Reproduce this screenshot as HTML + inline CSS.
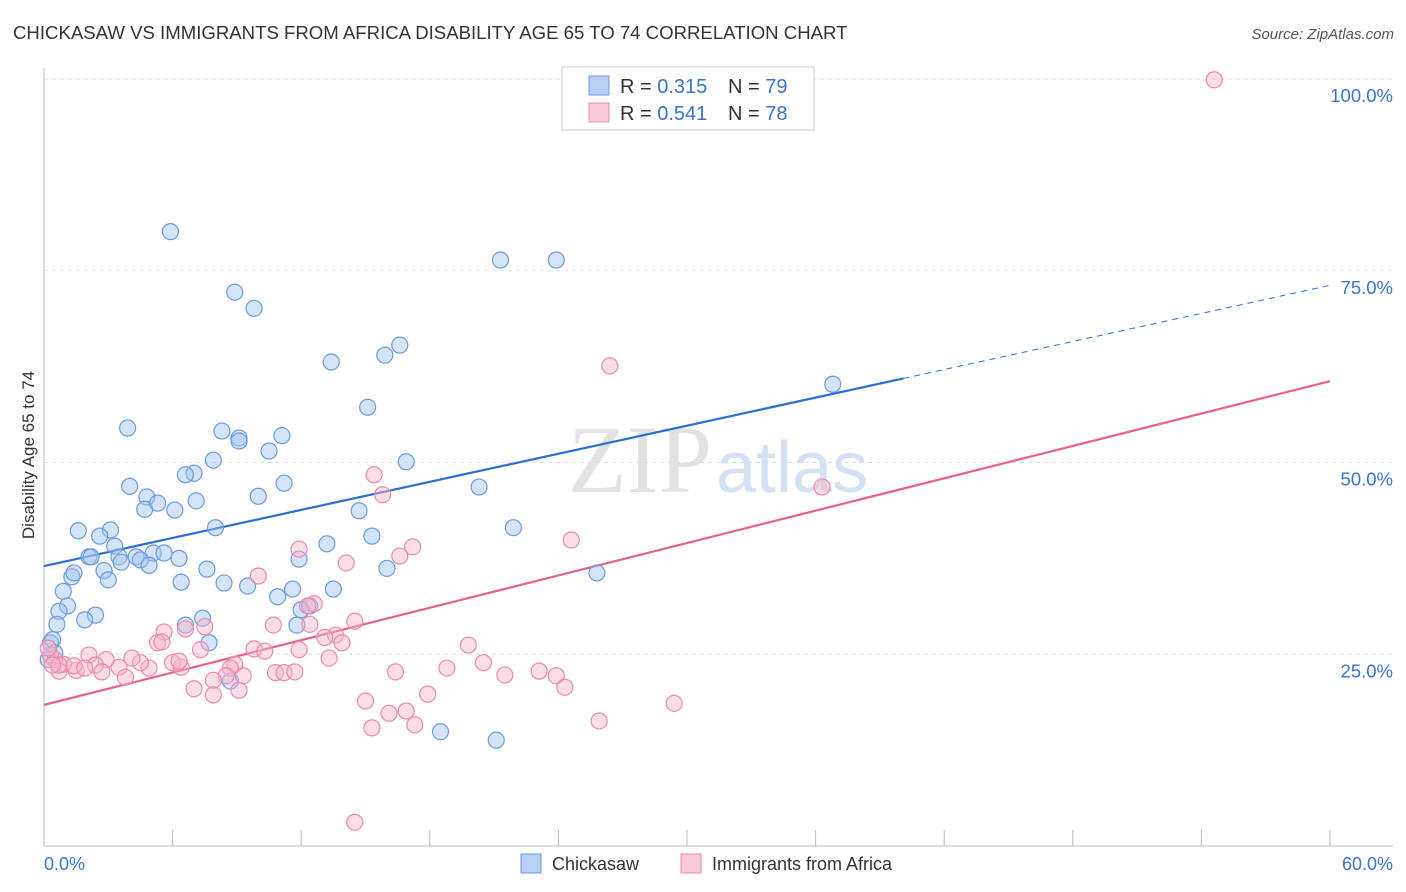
<!DOCTYPE html>
<html><head><meta charset="utf-8"><style>
body{margin:0;background:#fff;font-family:"Liberation Sans",sans-serif}
svg{display:block}
</style></head><body>
<svg id="chart" width="1406" height="892">
<text x="13" y="39" font-size="18.6" fill="#333">CHICKASAW VS IMMIGRANTS FROM AFRICA DISABILITY AGE 65 TO 74 CORRELATION CHART</text>
<text x="1394" y="39" font-size="15" fill="#555" font-style="italic" text-anchor="end">Source: ZipAtlas.com</text>
<text x="712" y="492" font-size="96" fill="#e2e2e2" font-family="Liberation Serif,serif" text-anchor="end">ZIP</text>
<text x="716" y="492" font-size="72" fill="#d4e1f3">atlas</text>
<text transform="translate(34,455) rotate(-90)" font-size="17" fill="#333" text-anchor="middle">Disability Age 65 to 74</text>
<g id="grid"></g><g id="axes"></g><g id="lines"></g><g id="pts"></g>
<g>
<rect x="562" y="67" width="252" height="63" fill="#fff" stroke="#ccc"/>
<rect x="589" y="76" width="20" height="19" fill="#b8d0f5" stroke="#6a9ae0"/>
<rect x="589" y="103" width="20" height="19" fill="#fbc8d8" stroke="#ec8aab"/>
<text x="620" y="93" font-size="20" fill="#333">R = <tspan fill="#3a73d0">0.315</tspan></text>
<text x="728" y="93" font-size="20" fill="#333">N = <tspan fill="#3a73d0">79</tspan></text>
<text x="620" y="120" font-size="20" fill="#333">R = <tspan fill="#3a73d0">0.541</tspan></text>
<text x="728" y="120" font-size="20" fill="#333">N = <tspan fill="#3a73d0">78</tspan></text>
</g>
<g>
<rect x="521" y="854" width="20" height="19" fill="#b8d0f5" stroke="#6a9ae0"/>
<text x="552" y="870" font-size="18" fill="#333">Chickasaw</text>
<rect x="681" y="854" width="20" height="19" fill="#fbc8d8" stroke="#ec8aab"/>
<text x="712" y="870" font-size="18" fill="#333">Immigrants from Africa</text>
</g>
<text x="44" y="870" font-size="18" fill="#3a73d0">0.0%</text>
<text x="1393" y="870" font-size="18" fill="#3a73d0" text-anchor="end">60.0%</text>
</svg>
<script>
const yTicks=[25,50,75,100];
const yTickLabels=["25.0%","50.0%","75.0%","100.0%"];
const xTicks=[0,6,12,18,24,30,36,42,48,54,60];
const blueX=[5.9,8.9,9.8,21.3,23.9,13.4,16.6,15.9,15.1,36.8,3.9,8.3,9.1,9.1,11.1,10.5,7.9,7.0,6.6,16.9,20.3,11.2,10.0,7.1,4.0,4.8,4.7,5.3,6.1,14.7,21.9,1.6,3.1,2.6,8.0,15.3,13.2,3.3,2.1,2.2,3.5,4.3,5.1,5.6,6.3,4.5,4.9,3.6,2.8,3.0,1.3,1.4,7.6,6.4,8.4,9.5,11.9,16.0,25.8,11.6,10.9,13.5,0.9,1.1,0.7,2.4,1.9,0.6,12.0,12.4,7.4,6.6,11.8,7.7,0.3,0.5,8.7,18.5,21.1,0.4,0.2];
const blueY=[80.1,72.2,70.1,76.4,76.4,63.1,65.3,64.0,57.2,60.2,54.5,54.1,53.2,52.8,53.5,51.5,50.3,48.6,48.4,50.1,46.8,47.3,45.6,45.0,46.9,45.5,43.9,44.7,43.8,43.7,41.5,41.1,41.2,40.4,41.5,40.4,39.4,39.1,37.7,37.7,37.7,37.7,38.2,38.2,37.5,37.3,36.6,37.0,35.9,34.7,35.1,35.6,36.1,34.4,34.3,33.9,37.4,36.2,35.6,33.5,32.5,33.5,33.2,31.3,30.6,30.1,29.5,28.9,30.8,31.3,29.7,28.8,28.8,26.5,26.5,25.2,21.5,14.9,13.8,26.9,24.3];
const pinkX=[54.6,26.4,36.3,15.4,15.8,24.6,17.2,16.6,11.9,14.1,10.0,12.6,12.3,14.5,5.6,7.5,6.6,10.7,12.4,13.6,13.1,13.9,5.3,5.5,19.8,7.3,9.8,10.3,11.9,13.3,20.5,18.8,23.1,23.9,24.3,29.4,16.4,10.8,11.2,11.7,8.9,8.7,8.5,9.3,7.9,6.0,6.4,6.3,4.9,4.5,4.1,3.5,2.9,2.1,2.4,1.5,2.7,0.9,0.5,0.3,0.2,0.7,1.4,1.9,3.8,7.0,7.9,9.1,15.0,16.1,16.9,17.9,17.3,15.3,25.9,21.5,14.5,0.7,0.4];
const pinkY=[99.9,62.6,46.8,48.4,45.8,39.9,39.0,37.8,38.7,36.9,35.2,31.6,31.3,29.3,27.9,28.6,28.3,28.8,28.9,27.5,27.2,26.5,26.5,26.6,26.2,25.6,25.7,25.4,25.6,24.5,23.9,23.2,22.8,22.2,20.7,18.6,22.7,22.6,22.6,22.7,23.7,23.2,22.2,22.2,21.6,23.9,23.3,24.1,23.2,23.9,24.5,23.3,24.3,24.9,23.6,22.9,22.7,23.7,24.3,24.9,25.8,22.8,23.5,23.2,22.0,20.5,19.7,20.3,18.9,17.3,17.6,19.8,15.8,15.4,16.3,22.3,3.1,23.6,23.6];
const blueTrend=[36.5,73.1];
const pinkTrend=[18.4,60.6];
const blueSolidEnd=40.1;
const NS='http://www.w3.org/2000/svg';
const sx=v=>44+v*(1286/60);
const sy=v=>846-v*7.67;
function mk(tag,attrs,parent){const e=document.createElementNS(NS,tag);for(const k in attrs)e.setAttribute(k,attrs[k]);document.getElementById(parent).appendChild(e);return e;}
yTicks.forEach((t,i)=>{
 const l=mk('line',{x1:44,x2:1393,y1:sy(t),y2:sy(t),stroke:'#ddd','stroke-dasharray':'4,4'},'grid');
 
 
 const tx=mk('text',{x:1393,y:sy(t)+23,'font-size':18.5,fill:'#3a73d0','text-anchor':'end'},'grid');
 tx.textContent=yTickLabels[i];
 
 
});
mk('line',{x1:44,x2:44,y1:68,y2:846,stroke:'#bbb'},'axes');
mk('line',{x1:44,x2:1393,y1:846,y2:846,stroke:'#bbb'},'axes');
xTicks.forEach(t=>{
 const l=mk('line',{x1:sx(t),x2:sx(t),y1:830,y2:846,stroke:'#bbb'},'axes');
 
 
});
function trend(tr,col,solidEnd){
 const f=x=>tr[0]+(tr[1]-tr[0])*x/60;
 const a=mk('line',{x1:sx(0),y1:sy(f(0)),x2:sx(solidEnd),y2:sy(f(solidEnd)),stroke:col,'stroke-width':2.2},'lines');
 
 
 if(solidEnd<60){const b=mk('line',{x1:sx(solidEnd),y1:sy(f(solidEnd)),x2:sx(60),y2:sy(f(60)),stroke:col,'stroke-width':1,'stroke-dasharray':'6,5'},'lines');
 
 }
}
trend(blueTrend,'#2a6fd6',blueSolidEnd);
trend(pinkTrend,'#e8608a',60);
function pts(xs,ys,fill,stroke,name){
 xs.forEach((x,i)=>{const c=mk('circle',{cx:sx(x),cy:sy(ys[i]),r:8,fill:fill,stroke:stroke,'stroke-width':1.2},'pts');
 
 });
}
pts(blueX,blueY,'rgba(160,195,240,0.45)','#6a9ae0','chickasaw-point');
pts(pinkX,pinkY,'rgba(248,180,205,0.45)','#ec8aab','africa-point');
</script>
</body></html>
